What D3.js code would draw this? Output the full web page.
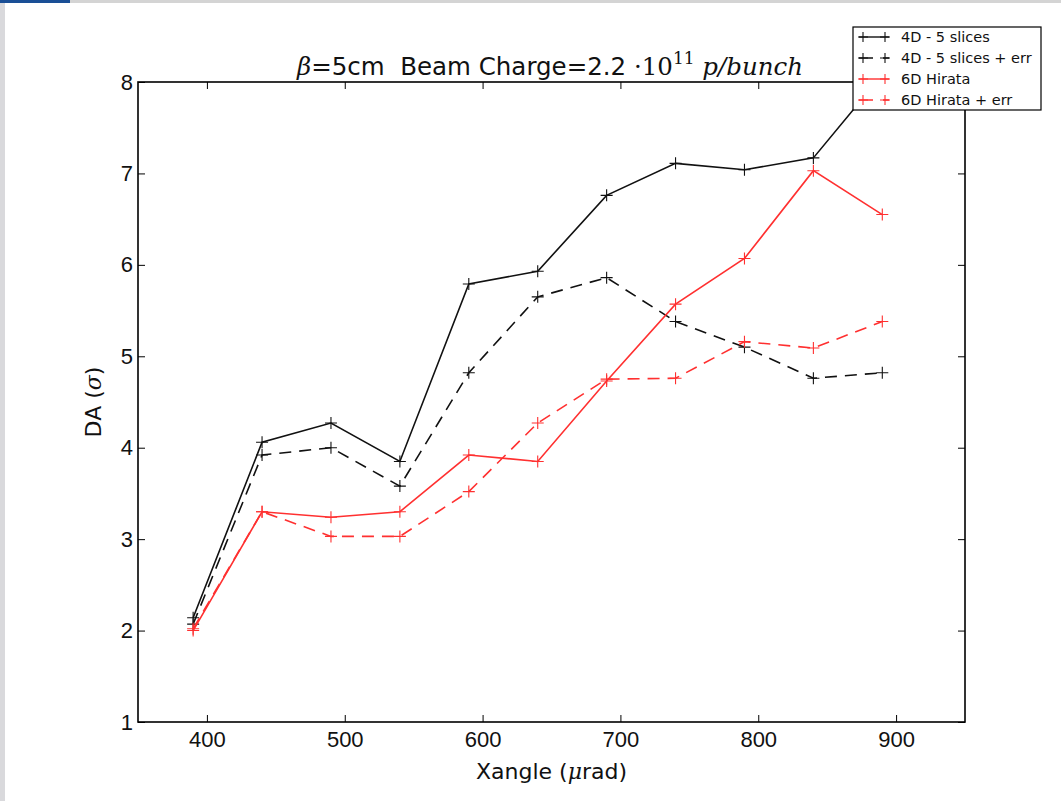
<!DOCTYPE html>
<meta charset="utf-8">
<style>
body { margin: 0; background: #fff; }
svg { display: block; font-family: "DejaVu Sans", sans-serif; }
.axis text { font-size: 22px; fill: #111; }
.axis path, .axis line { stroke: #000; }
.math { font-family: "DejaVu Serif", serif; font-style: italic; }
</style>
<body>
<script src="https://cdnjs.cloudflare.com/ajax/libs/d3/7.8.5/d3.min.js"></script>
<script>

var xangle = [390, 440, 490, 540, 590, 640, 690, 740, 790, 840, 890];
var slices4d = [2.14, 4.06, 4.27, 3.85, 5.79, 5.93, 6.76, 7.11, 7.04, 7.17, 8.08];
var slices4dErr = [2.07, 3.92, 4.0, 3.58, 4.82, 5.65, 5.86, 5.38, 5.1, 4.76, 4.82];
var hirata6d = [2.0, 3.3, 3.24, 3.3, 3.92, 3.85, 4.73, 5.57, 6.07, 7.03, 6.55];
var hirata6dErr = [2.02, 3.3, 3.03, 3.03, 3.52, 4.27, 4.75, 4.76, 5.16, 5.09, 5.38];
var xTicks = [400, 500, 600, 700, 800, 900];
var yTicks = [1, 2, 3, 4, 5, 6, 7, 8];

var series = [
  {name: "4D - 5 slices", values: slices4d, color: "#111", dash: null},
  {name: "4D - 5 slices + err", values: slices4dErr, color: "#111", dash: "12,8"},
  {name: "6D Hirata", values: hirata6d, color: "#ff3030", dash: null},
  {name: "6D Hirata + err", values: hirata6dErr, color: "#ff3030", dash: "12,8"}
];

var W = 1061, H = 801;
var margin = {top: 82, right: 96, bottom: 79, left: 138},
    width = W - margin.left - margin.right,
    height = H - margin.top - margin.bottom;

var svg = d3.select("body").append("svg")
    .attr("width", W).attr("height", H);

// slide background bits
svg.append("rect").attr("x", 0).attr("y", 0).attr("width", W).attr("height", 3).attr("fill", "#d4d4d4");
svg.append("rect").attr("x", 0).attr("y", 0).attr("width", 70).attr("height", 3).attr("fill", "#1a4f96");
svg.append("rect").attr("x", 0).attr("y", 3).attr("width", 5).attr("height", H).attr("fill", "#d9d9dc");

var x = d3.scaleLinear().domain([350, 950]).range([0, width]);
var y = d3.scaleLinear().domain([1, 8]).range([height, 0]);

var g = svg.append("g").attr("transform", "translate(" + margin.left + "," + margin.top + ")");

g.append("clipPath").attr("id", "clip")
  .append("rect").attr("width", width).attr("height", height);

// axes with inward ticks on all sides
var xb = g.append("g").attr("class", "axis")
  .attr("transform", "translate(0," + height + ")")
  .call(d3.axisBottom(x).tickValues(xTicks).tickSize(-7).tickPadding(25));
xb.select(".domain").remove();
xb.selectAll("text").attr("dy", null);

g.append("g").attr("class", "axis")
  .call(d3.axisTop(x).tickValues(xTicks).tickSize(-7).tickFormat(""))
  .select(".domain").remove();

g.append("g").attr("class", "axis")
  .call(d3.axisLeft(y).tickValues(yTicks).tickFormat(d3.format("d")).tickSize(-7).tickPadding(5))
  .select(".domain").remove();

g.append("g").attr("class", "axis")
  .attr("transform", "translate(" + width + ",0)")
  .call(d3.axisRight(y).tickValues(yTicks).tickSize(-7).tickFormat(""))
  .select(".domain").remove();

g.selectAll(".axis line").attr("stroke-width", 1);

var line = d3.line()
  .x(function(d, i) { return x(xangle[i]); })
  .y(function(d) { return y(d); });

var plot = g.append("g").attr("clip-path", "url(#clip)");

series.forEach(function(s) {
  plot.append("path")
    .attr("d", line(s.values))
    .attr("fill", "none")
    .attr("stroke", s.color)
    .attr("stroke-width", 1.6)
    .attr("stroke-dasharray", s.dash);
  plot.selectAll(null).data(s.values).enter().append("path")
    .attr("transform", function(d, i) { return "translate(" + x(xangle[i]) + "," + y(d) + ")"; })
    .attr("d", "M-6,0H6M0,-6V6")
    .attr("stroke", s.color)
    .attr("stroke-width", 1.1);
});

// frame
g.append("rect").attr("width", width).attr("height", height)
  .attr("fill", "none").attr("stroke", "#000").attr("stroke-width", 1.6);

// title
var title = svg.append("text")
  .attr("x", 550).attr("y", 75)
  .attr("text-anchor", "middle")
  .attr("font-size", 24.5).attr("fill", "#111")
  .style("white-space", "pre");
title.append("tspan").attr("class", "math").text("β");
title.append("tspan").text("=5cm\u00a0\u00a0Beam Charge=2.2 ");
title.append("tspan").attr("font-family", "DejaVu Serif, serif").text("·10");
title.append("tspan").attr("font-family", "DejaVu Serif, serif").attr("font-size", 17).attr("dy", -11).text("11");
title.append("tspan").attr("class", "math").attr("dy", 11).text(" p/bunch");

// axis labels
var xl = svg.append("text")
  .attr("x", margin.left + width / 2).attr("y", 779)
  .attr("text-anchor", "middle").attr("font-size", 22).attr("fill", "#111");
xl.append("tspan").text("Xangle (");
xl.append("tspan").attr("class", "math").text("μ");
xl.append("tspan").text("rad)");

var yl = svg.append("text")
  .attr("transform", "translate(101," + (margin.top + height / 2) + ") rotate(-90)")
  .attr("text-anchor", "middle").attr("font-size", 22).attr("fill", "#111");
yl.append("tspan").text("DA (");
yl.append("tspan").attr("class", "math").text("σ");
yl.append("tspan").text(")");

// legend
var lg = svg.append("g").attr("transform", "translate(853,27)");
lg.append("rect").attr("width", 188).attr("height", 83)
  .attr("fill", "#fff").attr("stroke", "#000").attr("stroke-width", 1.2);
series.forEach(function(s, i) {
  var row = lg.append("g").attr("transform", "translate(0," + (10 + i * 21) + ")");
  row.append("line").attr("x1", 6).attr("x2", 36).attr("y1", 0).attr("y2", 0)
    .attr("stroke", s.color).attr("stroke-width", 1.4)
    .attr("stroke-dasharray", s.dash ? "14,10" : null);
  [10, 32].forEach(function(px) {
    row.append("path").attr("d", "M" + (px - 5) + ",0H" + (px + 5) + "M" + px + ",-5V5")
      .attr("stroke", s.color).attr("stroke-width", 1.1);
  });
  row.append("text").attr("x", 48).attr("y", 5)
    .attr("font-size", 14.5).attr("fill", "#111").text(s.name);
});

</script>
</body>
